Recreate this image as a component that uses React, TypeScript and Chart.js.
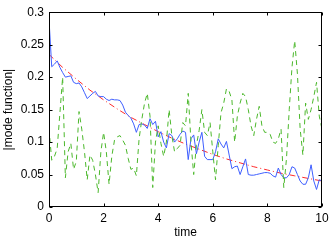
import React, { useEffect, useRef } from "react";
import { Chart, registerables } from "chart.js";

Chart.register(...registerables);

const X_TICKS = [0, 2, 4, 6, 8, 10];
const Y_TICKS = [0, 0.05, 0.1, 0.15, 0.2, 0.25, 0.3];
const TIME_STEP = 0.1;

const BLUE_VALUES = [
  0.289, 0.216, 0.22, 0.225, 0.215, 0.207, 0.2, 0.201, 0.202, 0.192,
  0.19, 0.191, 0.185, 0.176, 0.167, 0.171, 0.175, 0.178, 0.171, 0.17,
  0.17, 0.166, 0.164, 0.166, 0.165, 0.165, 0.164, 0.157, 0.146, 0.141,
  0.137, 0.128, 0.115, 0.127, 0.128, 0.126, 0.121, 0.136, 0.127, 0.132,
  0.108, 0.116, 0.1, 0.091, 0.113, 0.11, 0.1, 0.105, 0.112, 0.117,
  0.115, 0.073, 0.105, 0.111, 0.082, 0.1, 0.115, 0.078, 0.073, 0.073,
  0.073, 0.085, 0.105, 0.097, 0.091, 0.101, 0.08, 0.059, 0.062, 0.063,
  0.05, 0.062, 0.074, 0.05, 0.049, 0.049, 0.05, 0.051, 0.052, 0.053,
  0.053, 0.052, 0.048, 0.046, 0.06, 0.05, 0.045, 0.045, 0.05, 0.062,
  0.06, 0.05, 0.04, 0.035, 0.035, 0.045, 0.065, 0.04, 0.027, 0.042,
  0.04,
];

const GREEN_VALUES = [
  0.12, 0.072, 0.078, 0.09, 0.145, 0.2, 0.045, 0.085, 0.098, 0.058,
  0.07, 0.147, 0.12, 0.085, 0.042, 0.08, 0.072, 0.05, 0.022, 0.085,
  0.115, 0.085, 0.035, 0.078, 0.103, 0.108, 0.11, 0.103, 0.095, 0.075,
  0.058, 0.06, 0.048, 0.105, 0.135, 0.16, 0.175, 0.14, 0.03, 0.1,
  0.125, 0.098, 0.078, 0.1, 0.15, 0.11, 0.085, 0.09, 0.095, 0.13,
  0.125, 0.175, 0.1, 0.05, 0.095, 0.118, 0.15, 0.115, 0.11, 0.13,
  0.085, 0.042, 0.095, 0.145, 0.16, 0.182, 0.178, 0.165, 0.1, 0.14,
  0.16, 0.175, 0.17, 0.15, 0.125, 0.11, 0.135, 0.155, 0.125, 0.115,
  0.115, 0.112, 0.1, 0.098, 0.105, 0.12, 0.03, 0.075, 0.15, 0.215,
  0.256, 0.205, 0.12, 0.08, 0.16, 0.135, 0.15, 0.17, 0.192, 0.14,
  0.12,
];

const RED_TIMES = [0, 0.5, 1, 1.5, 2, 2.5, 3, 3.5, 4, 4.5, 5, 5.5, 6, 6.5, 7, 7.5, 8, 8.5, 9, 9.5, 10];
const RED_VALUES = [
  0.235, 0.215, 0.197, 0.18, 0.165, 0.151, 0.138, 0.127, 0.116, 0.106,
  0.097, 0.089, 0.081, 0.074, 0.068, 0.062, 0.057, 0.052, 0.048, 0.044, 0.04,
];

const FONT = { family: "'Liberation Sans', Arial, Helvetica, sans-serif", size: 12 };

const sampled = (vals: number[]) =>
  vals.map((v, i) => ({ x: Math.round(i * TIME_STEP * 100) / 100, y: v }));

const framePlugin = {
  id: "frame",
  afterDatasetsDraw(chart: any) {
    const { ctx, chartArea, scales } = chart;
    const L = Math.round(chartArea.left) + 0.5;
    const R = Math.round(chartArea.right) - 0.5;
    const T = Math.round(chartArea.top) + 0.5;
    const B = Math.round(chartArea.bottom) - 0.5;
    ctx.save();
    ctx.strokeStyle = "#000";
    ctx.lineWidth = 1;
    ctx.strokeRect(L, T, R - L, B - T);
    const len = 3;
    ctx.beginPath();
    X_TICKS.forEach((v) => {
      const px = Math.round(scales.x.getPixelForValue(v)) + 0.5;
      ctx.moveTo(px, B);
      ctx.lineTo(px, B - len);
      ctx.moveTo(px, T);
      ctx.lineTo(px, T + len);
    });
    Y_TICKS.forEach((v) => {
      const py = Math.round(scales.y.getPixelForValue(v)) + 0.5;
      ctx.moveTo(L, py);
      ctx.lineTo(L + len, py);
      ctx.moveTo(R, py);
      ctx.lineTo(R - len, py);
    });
    ctx.stroke();
    ctx.restore();
  },
};

export default function App() {
  const canvasRef = useRef<HTMLCanvasElement | null>(null);

  useEffect(() => {
    if (!canvasRef.current) return;
    const chart = new Chart(canvasRef.current, {
      type: "line",
      data: {
        datasets: [
          {
            data: sampled(GREEN_VALUES),
            borderColor: "#4cb82c",
            borderWidth: 1,
            borderDash: [5, 4],
            pointRadius: 0,
            tension: 0,
          },
          {
            data: sampled(BLUE_VALUES),
            borderColor: "#3f5fff",
            borderWidth: 1,
            pointRadius: 0,
            tension: 0,
          },
          {
            data: RED_TIMES.map((t, i) => ({ x: t, y: RED_VALUES[i] })),
            borderColor: "#ff2a2a",
            borderWidth: 1,
            borderDash: [6, 3, 1, 3],
            pointRadius: 0,
            tension: 0,
          },
        ],
      },
      options: {
        animation: false,
        responsive: false,
        maintainAspectRatio: false,
        layout: { padding: { top: 11, right: 11, left: 0, bottom: 0 } },
        plugins: { legend: { display: false }, tooltip: { enabled: false } },
        scales: {
          x: {
            type: "linear",
            min: 0,
            max: 10,
            afterBuildTicks: (s: any) => {
              s.ticks = X_TICKS.map((v) => ({ value: v }));
            },
            afterFit: (s: any) => {
              s.height = 34;
            },
            grid: { display: false, drawTicks: false },
            border: { display: false },
            ticks: {
              font: FONT,
              color: "#000",
              padding: 4,
              maxRotation: 0,
              autoSkip: false,
              callback: (v: any) => String(v),
            },
            title: {
              display: true,
              text: "time",
              font: FONT,
              color: "#000",
              padding: { top: 1, bottom: 1 },
            },
          },
          y: {
            type: "linear",
            min: 0,
            max: 0.3,
            afterBuildTicks: (s: any) => {
              s.ticks = Y_TICKS.map((v) => ({ value: v }));
            },
            afterFit: (s: any) => {
              s.width = 49;
            },
            grid: { display: false, drawTicks: false },
            border: { display: false },
            ticks: {
              font: FONT,
              color: "#000",
              padding: 5,
              autoSkip: false,
              callback: (v: any) => String(Math.round(Number(v) * 100) / 100),
            },
            title: {
              display: true,
              text: "|mode function|",
              font: FONT,
              color: "#000",
              padding: { top: 1, bottom: 1 },
            },
          },
        },
      },
      plugins: [framePlugin],
    });
    return () => chart.destroy();
  }, []);

  return (
    <div style={{ position: "absolute", left: 0, top: 0, width: 333, height: 241, background: "#fff" }}>
      <canvas ref={canvasRef} width={333} height={241} style={{ display: "block", width: 333, height: 241 }} />
    </div>
  );
}
